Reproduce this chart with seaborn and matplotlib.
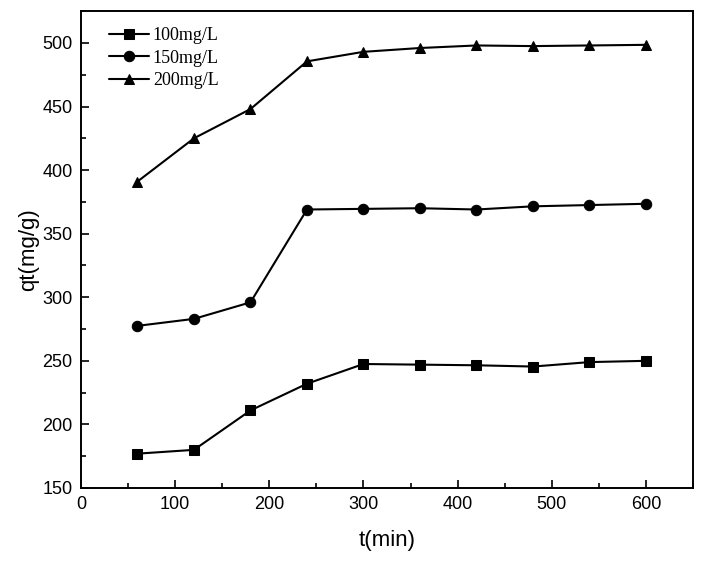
"""Adsorption kinetics: qt vs t for three initial concentrations."""

import matplotlib
matplotlib.use("Agg")
import matplotlib.pyplot as plt
import numpy as np
import pandas as pd
import seaborn as sns
from matplotlib.ticker import MultipleLocator

t_min = [60, 120, 180, 240, 300, 360, 420, 480, 540, 600]
qt_100 = [177, 180, 211, 232, 247.5, 247, 246.5, 245.5, 249, 250]
qt_150 = [277.5, 283, 296, 369, 369.5, 370, 369, 371.5, 372.5, 373.5]
qt_200 = [391, 425, 448, 485.5, 493, 496, 498, 497.5, 498, 498.5]
labels = ["100mg/L", "150mg/L", "200mg/L"]

df = pd.DataFrame({
    "t": t_min * 3,
    "qt": qt_100 + qt_150 + qt_200,
    "conc": np.repeat(labels, len(t_min)),
})

sns.set_style("ticks")
plt.rcParams["font.family"] = ["Liberation Sans", "DejaVu Sans"]
plt.rcParams.update({"text.color": "black", "axes.labelcolor": "black",
                     "xtick.color": "black", "ytick.color": "black"})

fig = plt.figure(figsize=(7.06, 5.65), dpi=100)
ax = fig.add_axes([0.1147, 0.1363, 0.867, 0.844])

sns.lineplot(data=df, x="t", y="qt", style="conc", markers=["s", "o", "^"],
             dashes=False, color="black", markersize=7.5, linewidth=1.5,
             markeredgecolor="black", ax=ax)

ax.set_xlim(0, 650)
ax.set_ylim(150, 525)
ax.xaxis.set_major_locator(MultipleLocator(100))
ax.xaxis.set_minor_locator(MultipleLocator(50))
ax.yaxis.set_major_locator(MultipleLocator(50))
ax.yaxis.set_minor_locator(MultipleLocator(25))
ax.tick_params(which="major", direction="in", length=6, width=1.2, labelsize=13, pad=6)
ax.tick_params(which="minor", direction="in", length=3.5, width=1.2)
for s in ax.spines.values():
    s.set_linewidth(1.4)
    s.set_color("black")

ax.set_xlabel("t(min)", fontsize=16, labelpad=12)
ax.set_ylabel("qt(mg/g)", fontsize=16, labelpad=2)

handles, _ = ax.get_legend_handles_labels()
ax.legend(handles=handles[-3:], labels=labels, loc="upper left", frameon=False,
          prop={"family": "Liberation Serif", "size": 13}, handlelength=2.2,
          borderaxespad=0.5, labelspacing=0.3, handletextpad=0.2,
          bbox_to_anchor=(0.02, 1.0))

fig.savefig("out.png", dpi=100)
